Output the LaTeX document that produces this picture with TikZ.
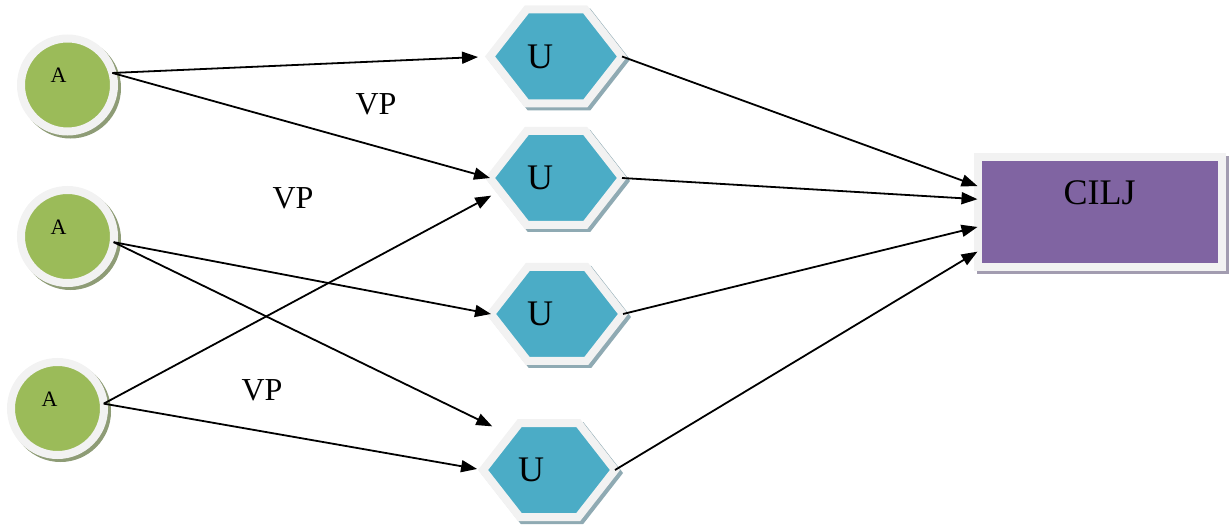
\documentclass[tikz,border=0pt]{standalone}
\usepackage{fontspec}
\setmainfont{Liberation Serif}
\usetikzlibrary{shapes.symbols,shadows,arrows.meta}
\definecolor{verde}{HTML}{9BBB59}
\definecolor{aqua}{HTML}{4BACC6}
\definecolor{morado}{HTML}{8064A2}
\definecolor{anillo}{HTML}{F2F2F2}
\definecolor{sombraverde}{HTML}{8E9C76}
\definecolor{sombraaqua}{HTML}{8FAAB3}
\definecolor{sombramorado}{HTML}{A29CB0}
\begin{document}
\begin{tikzpicture}[x=0.5pt,y=-0.5pt,>={Triangle[length=8pt,width=6pt]}]
% Estilos
\tikzset{actor/.style={circle,draw=anillo,line width=4pt,fill=verde,minimum size=46.5pt,inner sep=0pt,outer sep=0pt,
    drop shadow={shadow xshift=1.5pt,shadow yshift=-1.5pt,fill=sombraverde,draw=sombraverde,opacity=1}},
  caso/.style={signal,signal to=east and west,signal from=nowhere,signal pointer angle=104,draw=anillo,line width=4pt,fill=aqua,
    minimum width=66pt,minimum height=47pt,inner sep=0pt,outer sep=0pt,
    drop shadow={shadow xshift=1.5pt,shadow yshift=-1.5pt,fill=sombraaqua,draw=sombraaqua,opacity=1}},
  caja/.style={rectangle,draw=anillo,line width=4pt,fill=morado,minimum width=122pt,minimum height=55pt,inner sep=0pt,outer sep=0pt,
    drop shadow={shadow xshift=1.5pt,shadow yshift=-1.5pt,fill=sombramorado,draw=sombramorado,opacity=1}},
  flecha/.style={->,line width=0.9pt},
  letraA/.style={font=\fontsize{11}{13}\selectfont},
  letraU/.style={font=\fontsize{18}{20}\selectfont},
  letraVP/.style={font=\fontsize{16}{18}\selectfont}}

\useasboundingbox (0,0) rectangle (1232,529);

% Actores
\node[actor,label={[letraA,xshift=-4.5pt,yshift=5pt]center:A}] (A1) at (67.5,85) {};
\node[actor,label={[letraA,xshift=-4.5pt,yshift=4.5pt]center:A}] (A2) at (67.5,236.5) {};
\node[actor,label={[letraA,xshift=-4pt,yshift=4.5pt]center:A}] (A3) at (57.5,408.5) {};

% Casos
\node[caso,label={[letraU,xshift=-8pt]center:U}] (U1) at (556,56.5) {};
\node[caso,label={[letraU,xshift=-8pt]center:U}] (U2) at (556,178) {};
\node[caso,label={[letraU,xshift=-8.5pt]center:U}] (U3) at (557,314) {};
\node[caso,label={[letraU,xshift=-9pt]center:U}] (U4) at (549,470) {};

\node[caja,label={[letraU,yshift=9.5pt]center:CILJ}] (C) at (1099.5,212) {};

% Etiquetas
\node[letraVP] (vp1) at (376,104) {VP};
\node[letraVP] (vp2) at (293,198) {VP};
\node[letraVP] (vp3) at (262,390) {VP};

% Flechas
\draw[flecha,shorten >=6pt] (A1.15) -- (U1.west);
\draw[flecha] (A1.15) -- (U2.west);
\draw[flecha] (A2.-7) -- (U3.west);
\draw[flecha,shorten >=10pt] (A2.-7) -- (U4.138);
\draw[flecha,shorten >=5pt] (A3.6) -- (U2.193);
\draw[flecha,shorten >=3pt] (A3.6) -- (U4.west);

\draw[flecha] (U1.east) -- (C.168);
\draw[flecha] (U2.east) -- (C.174);
\draw[flecha] (U3.east) -- (C.187);
\draw[flecha] (U4.east) -- (C.198);

\end{tikzpicture}
\end{document}
